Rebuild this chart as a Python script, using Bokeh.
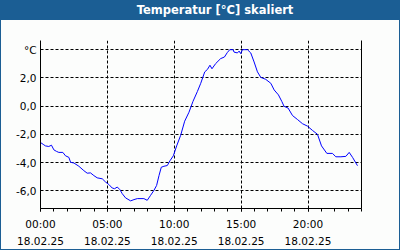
from bokeh.plotting import figure
from bokeh.models import FixedTicker, LinearAxis, Div, Range1d
from bokeh.layouts import column
from bokeh.embed import file_html
from bokeh.resources import INLINE

title_text = "Temperatur [°C] skaliert"

hours = [0.00, 0.20, 0.37, 0.62, 0.82, 1.00, 1.20, 1.37, 1.67, 1.87, 2.12, 2.25, 2.50, 2.87,
         3.24, 3.49, 3.74, 3.99, 4.24, 4.62, 4.87, 5.11, 5.36, 5.54, 5.74, 5.94, 6.11, 6.36,
         6.74, 6.99, 7.24, 7.73, 7.98, 8.23, 8.48, 8.68, 8.86, 9.03, 9.23, 9.48, 9.68, 9.93,
         10.18, 10.48, 10.78, 11.10, 11.40, 11.73, 11.98, 12.28, 12.48, 12.67, 12.82, 13.10,
         13.47, 13.75, 13.97, 14.15, 14.40, 14.47, 14.72, 14.85, 14.97, 15.10, 15.47, 15.72,
         15.97, 16.22, 16.47, 16.84, 17.22, 17.47, 17.79, 18.04, 18.21, 18.51, 18.84, 19.21,
         19.59, 19.96, 20.33, 20.71, 21.01, 21.41, 21.83, 22.08, 22.46, 22.83, 23.08, 23.33,
         23.70]
temps = [-2.57, -2.70, -2.81, -2.85, -2.76, -3.09, -3.20, -3.27, -3.27, -3.51, -3.62, -3.97,
         -4.02, -4.25, -4.56, -4.74, -4.72, -4.91, -5.07, -5.14, -5.37, -5.54, -5.79, -5.84,
         -5.72, -5.91, -6.19, -6.49, -6.70, -6.61, -6.54, -6.54, -6.66, -6.31, -5.96, -5.61,
         -4.91, -4.32, -4.25, -4.20, -3.86, -3.51, -2.81, -2.06, -1.06, -0.43, 0.34, 1.04,
         1.62, 2.43, 2.60, 2.90, 2.65, 3.02, 3.37, 3.48, 3.80, 4.00, 4.00, 3.83, 3.77, 3.90,
         3.72, 4.00, 4.00, 3.77, 3.13, 2.43, 2.04, 1.90, 1.62, 1.15, 0.80, 0.34, -0.01, -0.13,
         -0.66, -0.94, -1.24, -1.41, -1.71, -1.99, -2.81, -3.34, -3.34, -3.58, -3.58, -3.55,
         -3.27, -3.62, -4.21]

x_ticks = [0, 5, 10, 15, 20]
x_minor_ticks = list(range(0, 25))
x_tick_labels = ["00:00\n18.02.25", "05:00\n18.02.25", "10:00\n18.02.25",
                 "15:00\n18.02.25", "20:00\n18.02.25"]
y_ticks = [-6, -4, -2, 0, 2, 4]
y_tick_labels = ["-6,0", "-4,0", "-2,0", "0,0", "2,0", "°C"]

BLUE = "#1b5e94"
BG = "#fcfdfc"
FONT = "DejaVu Sans"

p = figure(width=398, height=229, x_range=Range1d(0, 24), y_range=Range1d(-7.24, 4.65),
           output_backend="svg", toolbar_location=None, margin=0, title=None,
           min_border_left=39, min_border_right=38, min_border_top=20, min_border_bottom=39,
           styles={"background-color": BG})
p.background_fill_color = BG
p.border_fill_color = BG
p.outline_line_color = None

p.line(hours, temps, line_color="#0000ff", line_width=1)

xa = p.xaxis[0]
xa.ticker = FixedTicker(ticks=x_ticks, minor_ticks=x_minor_ticks)
xa.major_label_overrides = dict(zip(x_ticks, x_tick_labels))
xa.axis_line_color = "black"
xa.major_tick_line_color = "black"
xa.minor_tick_line_color = "black"
xa.major_tick_in = 0
xa.major_tick_out = 3
xa.minor_tick_in = 0
xa.minor_tick_out = 3
xa.major_label_standoff = 6
xa.major_label_text_font = FONT
xa.major_label_text_font_size = "10.5px"
xa.major_label_text_color = "black"
xa.major_label_text_line_height = 1.45

ya = p.yaxis[0]
ya.ticker = FixedTicker(ticks=y_ticks)
ya.major_label_overrides = dict(zip(y_ticks, y_tick_labels))
ya.axis_line_color = "black"
ya.major_tick_line_color = None
ya.minor_tick_line_color = None
ya.major_tick_in = 0
ya.major_tick_out = 0
ya.major_label_standoff = 4
ya.major_label_text_font = FONT
ya.major_label_text_font_size = "10.5px"
ya.major_label_text_color = "black"

right = LinearAxis(ticker=FixedTicker(ticks=[]), major_label_text_font_size="0px",
                   axis_line_color="black", major_tick_line_color=None, minor_tick_line_color=None)
p.add_layout(right, "right")

p.xgrid.ticker = FixedTicker(ticks=x_ticks)
p.ygrid.ticker = FixedTicker(ticks=y_ticks)
for g in (p.xgrid, p.ygrid):
    g.grid_line_color = "black"
    g.grid_line_dash = "3 2"
    g.grid_line_width = 1

title = Div(text=title_text, width=398, height=20, margin=0,
            styles={"background-color": BLUE, "color": "white", "font-family": FONT,
                    "font-weight": "bold", "font-size": "11.5px", "text-align": "center",
                    "line-height": "20px", "padding-left": "30px", "box-sizing": "border-box"})

layout = column(title, p, spacing=0, margin=0,
                styles={"background-color": BLUE, "padding": "0px 1px 1px 1px"})

open("out.html", "w").write(file_html(layout, INLINE))
